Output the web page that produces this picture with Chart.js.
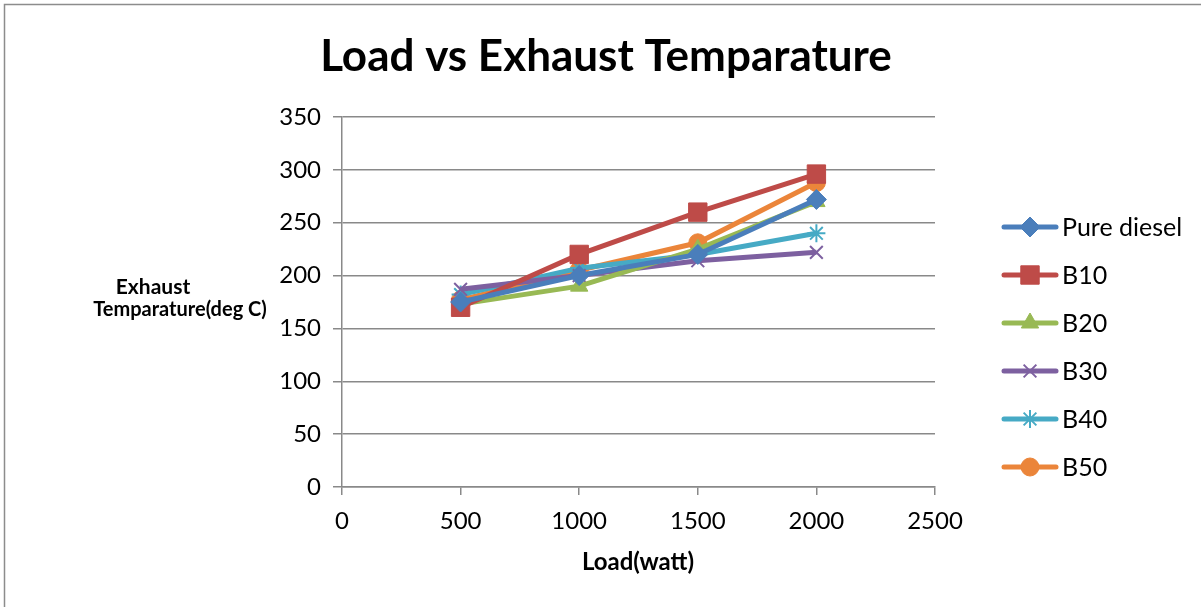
<!DOCTYPE html>
<html>
<head>
<meta charset="utf-8">
<script src="https://cdn.jsdelivr.net/npm/chart.js@4.4.1/dist/chart.umd.min.js"></script>
<style>
  body { margin: 0; background: #fff; }
  #wrap { width: 1201px; height: 607px; }
</style>
</head>
<body>
<div id="wrap"><canvas id="exhaust_chart" width="1201" height="607"></canvas></div>
<script>
// chart values
const loads = [500, 1000, 1500, 2000];
const pureDiesel = [175, 200, 220, 272];
const b10 = [170, 220, 260, 296];
const b20 = [173, 190, 225, 270];
const b30 = [187, 200, 214, 222];
const b40 = [182, 207, 220, 240];
const b50 = [177, 205, 231, 288];
const xTicks = [0, 500, 1000, 1500, 2000, 2500];
const yTicks = [0, 50, 100, 150, 200, 250, 300, 350];

const chartTitle = 'Load vs Exhaust Temparature';
const xTitle = 'Load(watt)';
const yTitle = ['Exhaust', 'Temparature(deg C)'];

const FONT = 'Lato, "Open Sans", sans-serif';
const gridColor = '#898989';

function toPoints(values) {
    return loads.map((x, i) => ({ x: x, y: values[i] }));
}

const series = [
    { label: 'Pure diesel', data: pureDiesel, color: '#4A7EBB', style: 'rectRot', radius: 10 },
    { label: 'B10', data: b10, color: '#BE4B48', style: 'rect', radius: 13 },
    { label: 'B20', data: b20, color: '#98B954', style: 'triangle', radius: 10 },
    { label: 'B30', data: b30, color: '#7D60A0', style: 'crossRot', radius: 9 },
    { label: 'B40', data: b40, color: '#46AAC5', style: 'star', radius: 9 },
    { label: 'B50', data: b50, color: '#EB853A', style: 'circle', radius: 9 }
];

// draws the frame, titles and the excel style legend
const decorations = {
    id: 'decorations',
    beforeDraw(chart) {
        const ctx = chart.ctx;
        ctx.save();
        ctx.fillStyle = '#fff';
        ctx.fillRect(0, 0, chart.width, chart.height);
        ctx.strokeStyle = '#8c8c8c';
        ctx.lineWidth = 1.5;
        ctx.beginPath();
        ctx.moveTo(4.5, chart.height + 2);
        ctx.lineTo(4.5, 4.5);
        ctx.lineTo(chart.width + 2, 4.5);
        ctx.stroke();
        ctx.restore();
    },
    afterDraw(chart) {
        const ctx = chart.ctx;
        ctx.save();
        ctx.fillStyle = '#000';
        ctx.textAlign = 'center';
        ctx.textBaseline = 'middle';

        ctx.font = 'bold 44px ' + FONT;
        ctx.fillText(chartTitle, 606, 57);

        ctx.font = 'bold 24px ' + FONT;
        ctx.fillText(xTitle, 638, 562);

        ctx.font = 'bold 21px ' + FONT;
        ctx.fillText(yTitle[0], 153, 287);
        ctx.font = 'bold 20px ' + FONT;
        ctx.fillText(yTitle[1], 180, 310);

        // legend
        ctx.textAlign = 'left';
        ctx.font = '25px ' + FONT;
        chart.data.datasets.forEach((ds, i) => {
            const y = 227 + i * 48;
            ctx.strokeStyle = ds.borderColor;
            ctx.fillStyle = ds.borderColor;
            ctx.lineWidth = 5;
            ctx.lineCap = 'round';
            ctx.beginPath();
            ctx.moveTo(1004, y);
            ctx.lineTo(1056, y);
            ctx.stroke();
            ctx.lineWidth = ds.pointBorderWidth;
            ctx.lineCap = 'butt';
            Chart.helpers.drawPoint(ctx, {
                pointStyle: ds.pointStyle,
                radius: ds.pointRadius,
                borderWidth: ds.pointBorderWidth
            }, 1030, y);
            ctx.fillStyle = '#000';
            ctx.fillText(ds.label, 1062, y + 1);
        });
        ctx.restore();
    }
};

const ctx = document.getElementById('exhaust_chart').getContext('2d');
new Chart(ctx, {
    type: 'line',
    data: {
        datasets: series.map(s => ({
            label: s.label,
            data: toPoints(s.data),
            borderColor: s.color,
            backgroundColor: s.color,
            borderWidth: 5,
            pointStyle: s.style,
            pointRadius: s.radius,
            pointBorderWidth: (s.style === 'crossRot' || s.style === 'star') ? 2 : 1,
            pointBackgroundColor: s.color,
            pointBorderColor: s.color,
            tension: 0
        }))
    },
    options: {
        responsive: false,
        animation: false,
        layout: { padding: { left: 270, right: 266, top: 117, bottom: 0 } },
        plugins: {
            legend: { display: false },
            title: { display: false },
            tooltip: { enabled: false }
        },
        scales: {
            x: {
                type: 'linear',
                min: 0,
                max: 2500,
                afterBuildTicks: axis => { axis.ticks = xTicks.map(v => ({ value: v })); },
                afterFit: axis => { axis.height = 120; },
                grid: {
                    drawOnChartArea: false,
                    drawTicks: true,
                    tickLength: 8,
                    color: gridColor,
                    lineWidth: 1.5
                },
                border: { color: gridColor, width: 1.5 },
                ticks: {
                    color: '#000',
                    font: { family: FONT, size: 24 },
                    padding: 12,
                    maxRotation: 0,
                    callback: v => String(v)
                }
            },
            y: {
                min: 0,
                max: 350,
                afterBuildTicks: axis => { axis.ticks = yTicks.map(v => ({ value: v })); },
                afterFit: axis => { axis.width = 72; },
                grid: {
                    drawTicks: true,
                    tickLength: 9,
                    color: gridColor,
                    lineWidth: 1.5
                },
                border: { color: gridColor, width: 1.5 },
                ticks: {
                    color: '#000',
                    font: { family: FONT, size: 24 },
                    padding: 12,
                    callback: v => String(v)
                }
            }
        }
    },
    plugins: [decorations]
});
</script>
</body>
</html>
